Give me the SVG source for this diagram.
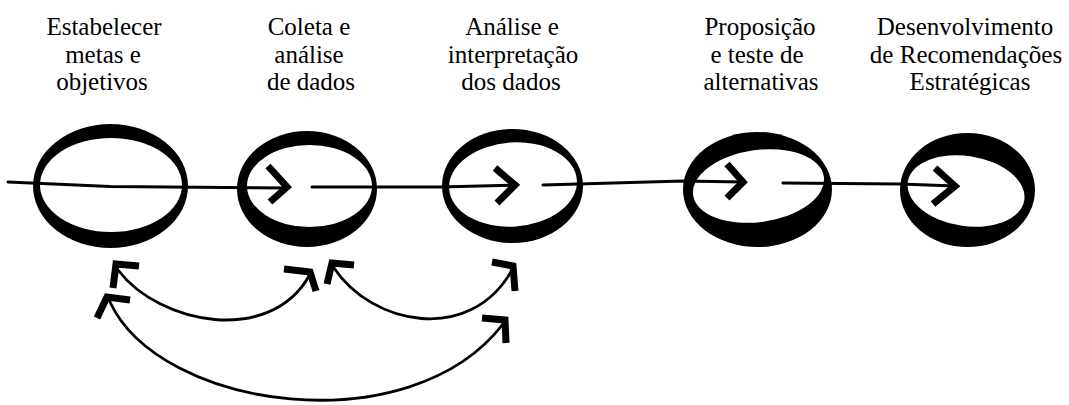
<svg xmlns="http://www.w3.org/2000/svg" width="1069" height="405" viewBox="0 0 1069 405">
<style>
text{font-family:'Liberation Serif','DejaVu Serif','Times New Roman',serif;font-size:25px;fill:#000;text-anchor:middle}
.ring{fill:#000}
.hole{fill:#fff}
.ln{fill:none;stroke:#000;stroke-width:3;stroke-linecap:round}
.arc{fill:none;stroke:#000;stroke-width:2.8;stroke-linecap:round}
.hd{fill:none;stroke:#000;stroke-width:7;stroke-linecap:butt;stroke-linejoin:miter}
</style>
<rect width="1069" height="405" fill="#fff"/>
<g id="n1">
<ellipse class="ring" cx="110.5" cy="186" rx="77.5" ry="62"/>
<ellipse class="hole" cx="111" cy="185" rx="71" ry="47"/>
<text font-family="Liberation Serif, serif" x="104" y="35">Estabelecer</text>
<text font-family="Liberation Serif, serif" x="103" y="63">metas e</text>
<text font-family="Liberation Serif, serif" x="102" y="90">objetivos</text>
</g>
<g id="n2">
<ellipse class="ring" cx="307" cy="189" rx="70" ry="58"/>
<ellipse class="hole" cx="309.5" cy="186" rx="62.5" ry="41"/>
<text font-family="Liberation Serif, serif" x="309" y="35">Coleta e</text>
<text font-family="Liberation Serif, serif" x="309" y="63">análise</text>
<text font-family="Liberation Serif, serif" x="311" y="90">de dados</text>
</g>
<g id="n3">
<ellipse class="ring" cx="512.5" cy="186" rx="70.5" ry="57"/>
<ellipse class="hole" cx="513" cy="184.5" rx="64" ry="42" transform="rotate(-4 513 184.5)"/>
<text font-family="Liberation Serif, serif" x="512" y="35">Análise e</text>
<text font-family="Liberation Serif, serif" x="513" y="63">interpretação</text>
<text font-family="Liberation Serif, serif" x="511" y="90">dos dados</text>
</g>
<g id="n4">
<ellipse class="ring" cx="757.5" cy="189.5" rx="74.5" ry="57.5"/>
<ellipse class="hole" cx="758.5" cy="186" rx="66" ry="36" transform="rotate(-8 758.5 186)"/>
<text font-family="Liberation Serif, serif" x="760" y="35">Proposição</text>
<text font-family="Liberation Serif, serif" x="757" y="63">e teste de</text>
<text font-family="Liberation Serif, serif" x="761" y="90">alternativas</text>
</g>
<g id="n5">
<ellipse class="ring" cx="967.5" cy="190" rx="67.5" ry="57"/>
<ellipse class="hole" cx="966" cy="191" rx="59" ry="35" transform="rotate(9 966 191)"/>
<text font-family="Liberation Serif, serif" x="965" y="35">Desenvolvimento</text>
<text font-family="Liberation Serif, serif" x="966" y="63">de Recomendações</text>
<text font-family="Liberation Serif, serif" x="970" y="90">Estratégicas</text>
</g>
<g id="connectors">
<path class="ln" d="M8,182 L110,186.5 L287,188"/>
<polyline class="hd" points="268,166 287,187 270,202"/>
<path class="ln" d="M312,187 L440,187 L515,185"/>
<polyline class="hd" points="495,168 515,185 497,203"/>
<path class="ln" d="M543,185 L683,181 L743,182"/>
<polyline class="hd" points="727,164 743,182 727,198"/>
<path class="ln" d="M783,183 L900,184 L955,186"/>
<polyline class="hd" points="935,168 955,186 933,204"/>
<path class="arc" d="M118,270 C160,325 270,345 309,276"/>
<polyline class="hd" points="139,266 116,264 113,288"/>
<polyline class="hd" points="284,269 310,272 316,291"/>
<path class="arc" d="M334,268 C372,325 470,345 512,270"/>
<polyline class="hd" points="354,265 332,263 327,284"/>
<polyline class="hd" points="492,262 513,266 515,291"/>
<path class="arc" d="M110,302 C160,410 410,445 503,324"/>
<polyline class="hd" points="130,300 107,297 97,318"/>
<polyline class="hd" points="482,318 505,320 506,343"/>
</g>
</svg>
